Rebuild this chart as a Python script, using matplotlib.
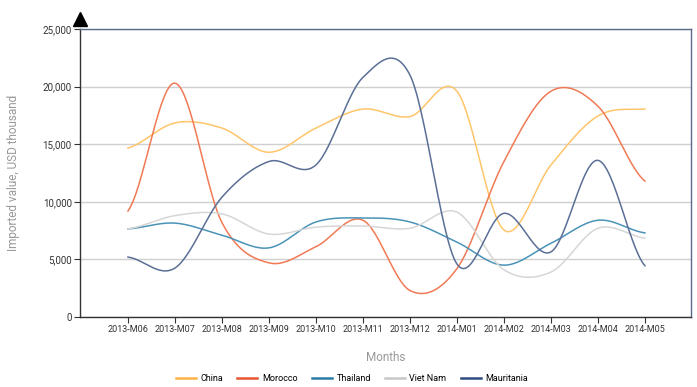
import numpy as np
import matplotlib.pyplot as plt
from matplotlib.lines import Line2D

months = ['2013-M06', '2013-M07', '2013-M08', '2013-M09', '2013-M10', '2013-M11',
          '2013-M12', '2014-M01', '2014-M02', '2014-M03', '2014-M04', '2014-M05']

china      = [14670, 16850, 16400, 14300, 16400, 18050, 17400, 19600, 7550, 13200, 17450, 18050]
morocco    = [9200, 20300, 8200, 4700, 6100, 8400, 2300, 4200, 13500, 19600, 18300, 11800]
thailand   = [7650, 8150, 7100, 6000, 8250, 8600, 8250, 6500, 4500, 6400, 8400, 7300]
viet_nam   = [7650, 8800, 8950, 7200, 7800, 7900, 7700, 9100, 4100, 3900, 7700, 6850]
mauritania = [5200, 4250, 10400, 13500, 13200, 20800, 21000, 4600, 9000, 5650, 13600, 4450]

series = [('China', china, '#ffc56a', '#ffb347'),
          ('Morocco', morocco, '#f07a55', '#e8552e'),
          ('Thailand', thailand, '#4a93b8', '#2a7aa5'),
          ('Viet Nam', viet_nam, '#d6d6d6', '#c8c8c8'),
          ('Mauritania', mauritania, '#5a6f96', '#2f4a7f')]


def cardinal(y, n=30):
    # catmull-rom style smoothing through the data points (render only)
    y = np.asarray(y, float)
    p = np.concatenate([[y[0]], y, [y[-1]]])
    xs, ys = [], []
    t = np.linspace(0, 1, n, endpoint=False)
    for i in range(1, len(p) - 2):
        p0, p1, p2, p3 = p[i - 1], p[i], p[i + 1], p[i + 2]
        m1 = (p2 - p0) / 2
        m2 = (p3 - p1) / 2
        h00 = 2 * t**3 - 3 * t**2 + 1
        h10 = t**3 - 2 * t**2 + t
        h01 = -2 * t**3 + 3 * t**2
        h11 = t**3 - t**2
        ys.append(h00 * p1 + h10 * m1 + h01 * p2 + h11 * m2)
        xs.append(i - 1 + t)
    xs.append([len(y) - 1])
    ys.append([y[-1]])
    return np.concatenate(xs), np.concatenate(ys)


plt.rcParams['font.family'] = ['Roboto', 'DejaVu Sans']

fig = plt.figure(figsize=(6.97, 3.87), dpi=100)
ax = fig.add_axes([80 / 697, 1 - 317 / 387, 611 / 697, 288 / 387])

x = np.arange(len(months))
for name, vals, col, _ in series:
    sx, sy = cardinal(vals)
    ax.plot(sx, sy, color=col, lw=1.1, zorder=3)

ax.set_xlim(-1.02, 11.98)
ax.set_ylim(0, 25000)
ax.set_yticks(np.arange(0, 25001, 5000))
ax.set_yticklabels([f'{v:,}' for v in range(0, 25001, 5000)], fontsize=7, color='#333333')
ax.set_xticks(x)
ax.set_xticklabels(months, fontsize=6.5, color='#333333')
ax.grid(axis='y', color='#d0d0d0', lw=1)
ax.set_axisbelow(True)
ax.tick_params(axis='both', length=4, width=0.8, color='#333333', pad=2)

for s in ['left', 'bottom']:
    ax.spines[s].set_color('#333333')
    ax.spines[s].set_linewidth(1)
for s in ['top', 'right']:
    ax.spines[s].set_color('#5a6a88')
    ax.spines[s].set_linewidth(1)

# arrow head on y axis
ax.plot([-1.02], [25900], marker='^', color='black', markersize=10, clip_on=False, zorder=5)

ax.set_ylabel('Imported value, USD thousand', fontsize=8.5, color='#999999', labelpad=16)
ax.set_xlabel('Months', fontsize=8.5, color='#999999', labelpad=12)

handles = [Line2D([0], [0], color=lc, lw=1.8) for _, _, _, lc in series]
fig.legend(handles, [s[0] for s in series], loc='lower center', bbox_to_anchor=(0.505, -0.01),
           ncol=5, frameon=False, fontsize=6.5, handlelength=2.2, handletextpad=0.5,
           columnspacing=1.6)

fig.savefig('out.png', dpi=100)
